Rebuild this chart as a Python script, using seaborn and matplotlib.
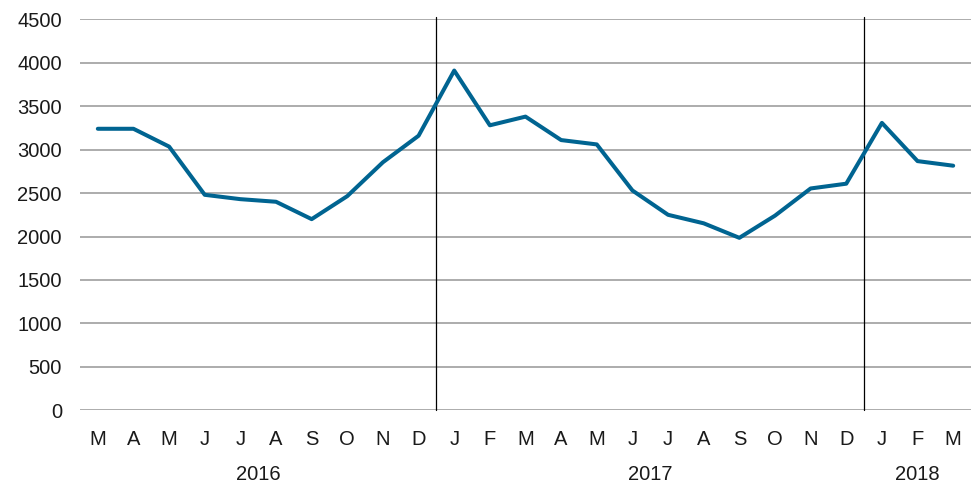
import matplotlib
matplotlib.use("Agg")
import matplotlib.pyplot as plt
import seaborn as sns
import pandas as pd
import numpy as np

months = ["M", "A", "M", "J", "J", "A", "S", "O", "N", "D",
          "J", "F", "M", "A", "M", "J", "J", "A", "S", "O", "N", "D",
          "J", "F", "M"]
values = [3240, 3240, 3035, 2480, 2430, 2400, 2200, 2465, 2855, 3160,
          3910, 3280, 3380, 3110, 3060, 2530, 2250, 2152, 1985, 2240, 2553, 2608,
          3308, 2868, 2815]
years = ["2016", "2017", "2018"]
year_spans = [(0, 9), (10, 21), (22, 24)]
yticks = [0, 500, 1000, 1500, 2000, 2500, 3000, 3500, 4000, 4500]

sns.set_theme(style="white")
plt.rcParams["font.family"] = ["Liberation Sans", "DejaVu Sans"]

df = pd.DataFrame({"idx": np.arange(len(values)), "value": values})

fig = plt.figure(figsize=(9.78, 4.87), dpi=100)
ax = fig.add_axes([80 / 978, 1 - 410.3 / 487, (971 - 80) / 978, (410.3 - 19.3) / 487])

for t in yticks:
    ax.axhline(t, color="#a6a6a6", lw=1.3, zorder=1)

sns.lineplot(data=df, x="idx", y="value", ax=ax, color="#006491", lw=2.9, zorder=3)

for (a, b) in year_spans[:-1]:
    ax.axvline(b + 0.5, ymin=0, ymax=1.005, color="black", lw=0.9, zorder=2, clip_on=False)

fs = 14.5
ax.set_xlim(-0.5, len(values) - 0.5)
ax.set_ylim(0, 4500)
ax.set_yticks(yticks)
ax.set_yticklabels([str(t) for t in yticks], fontsize=fs, color="#1a1a1a")
ax.set_xticks(np.arange(len(values)))
ax.set_xticklabels(months, fontsize=fs, color="#1a1a1a")
ax.tick_params(axis="y", length=0, pad=13)
ax.tick_params(axis="x", length=0, pad=14)
ax.set_xlabel("")
ax.set_ylabel("")
for s in ax.spines.values():
    s.set_visible(False)

for yr, (a, b) in zip(years, year_spans):
    ax.text((a + b) / 2, -0.165, yr, transform=ax.get_xaxis_transform(),
            ha="center", va="center", fontsize=fs, color="#1a1a1a")

fig.savefig("out.png", dpi=100)
